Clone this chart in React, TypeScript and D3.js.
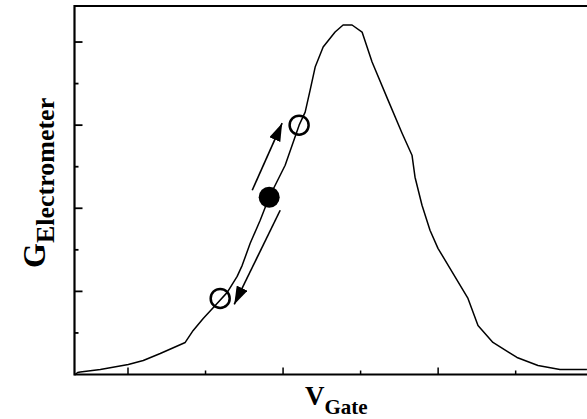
import React from "react";
import * as d3 from "d3";

// Curve: V_gate (tick units) vs G_electrometer (tick units)
const curveX = [0.32, 0.35, 0.385, 0.643, 1.004, 1.197, 1.416, 1.738, 1.841, 1.97, 2.125, 2.28, 2.408, 2.473, 2.576, 2.705, 2.821, 3.027, 3.207, 3.285, 3.349, 3.414, 3.517, 3.671, 3.774, 3.89, 4.019, 4.148, 4.354, 4.535, 4.663, 4.702, 4.792, 4.895, 4.998, 5.153, 5.385, 5.514, 5.707, 6.017, 6.288, 6.571, 6.919];
const curveY = [0.0, 0.048, 0.06, 0.12, 0.241, 0.337, 0.506, 0.771, 1.06, 1.349, 1.663, 1.976, 2.361, 2.627, 3.157, 3.711, 4.265, 5.036, 6.0, 6.313, 6.843, 7.398, 7.88, 8.241, 8.41, 8.41, 8.241, 7.518, 6.602, 5.807, 5.277, 4.747, 4.072, 3.47, 3.036, 2.554, 1.831, 1.181, 0.771, 0.41, 0.217, 0.12, 0.12];

// markers
const openX = [3.207, 2.189];
const openY = [6.0, 1.831];
const filledX = [2.821];
const filledY = [4.265];

// arrows
const arrowFromX = [2.602, 2.963];
const arrowFromY = [4.434, 3.952];
const arrowToX = [2.988, 2.37];
const arrowToY = [6.048, 1.687];

const xTicks = [1, 2, 3, 4, 5, 6];
const yTicks = [1, 2, 3, 4, 5, 6, 7, 8];

const W = 587;
const H = 419;

export default function App() {
  const x = d3.scaleLinear().domain([0.31, 6.92]).range([74.5, 587]);
  const y = d3.scaleLinear().domain([0, 8.867]).range([374.5, 6]);
  const line = d3
    .line<number>()
    .x((_, i) => x(curveX[i]))
    .y((_, i) => y(curveY[i]));
  const path = line(curveX as any) || "";
  const font = "'Liberation Serif', 'Times New Roman', serif";

  return (
    <div style={{ position: "absolute", left: 0, top: 0 }}>
      <svg width={W} height={H} style={{ display: "block", background: "#fff" }}>
        <defs>
          <marker id="ah" viewBox="0 0 18 12" refX="18" refY="6" markerWidth="18" markerHeight="12" markerUnits="userSpaceOnUse" orient="auto">
            <path d="M0,0 L18,6 L0,12 Z" fill="#000" />
          </marker>
        </defs>
        {/* frame */}
        <line x1={x(0.31)} x2={W} y1={y(8.867)} y2={y(8.867)} stroke="#000" strokeWidth={2.2} />
        <line x1={x(0.31)} x2={W} y1={y(0)} y2={y(0)} stroke="#000" strokeWidth={2.2} />
        <line x1={x(0.31)} x2={x(0.31)} y1={y(8.867) - 1} y2={y(0) + 1} stroke="#000" strokeWidth={2.2} />
        {/* ticks */}
        {xTicks.map((t) => (
          <line key={"xt" + t} x1={x(t)} x2={x(t)} y1={y(0)} y2={y(0) - (t % 2 === 1 ? 7 : 4)} stroke="#000" strokeWidth={1.5} />
        ))}
        {yTicks.map((t) => (
          <line key={"yt" + t} x1={x(0.31)} x2={x(0.31) + (t % 2 === 0 ? 8 : 4)} y1={y(t)} y2={y(t)} stroke="#000" strokeWidth={1.8} />
        ))}
        {/* curve */}
        <path d={path} fill="none" stroke="#000" strokeWidth={1.5} strokeLinejoin="round" />
        {/* arrows */}
        {arrowFromX.map((_, i) => (
          <line key={"ar" + i} x1={x(arrowFromX[i])} y1={y(arrowFromY[i])} x2={x(arrowToX[i])} y2={y(arrowToY[i])} stroke="#000" strokeWidth={1.6} markerEnd="url(#ah)" />
        ))}
        {/* markers */}
        {openX.map((v, i) => (
          <circle key={"o" + i} cx={x(v)} cy={y(openY[i])} r={9.5} fill="none" stroke="#000" strokeWidth={2.5} />
        ))}
        {filledX.map((v, i) => (
          <circle key={"f" + i} cx={x(v)} cy={y(filledY[i])} r={10.5} fill="#000" />
        ))}
        {/* labels */}
        <text x={305} y={405} fontFamily={font} fontWeight="bold" fontSize={27}>
          V<tspan fontSize={21} dy={9}>Gate</tspan>
        </text>
        <text transform="translate(45,268) rotate(-90)" fontFamily={font} fontWeight="bold" fontSize={32}>
          G<tspan fontSize={26} dy={9}>Electrometer</tspan>
        </text>
      </svg>
    </div>
  );
}
